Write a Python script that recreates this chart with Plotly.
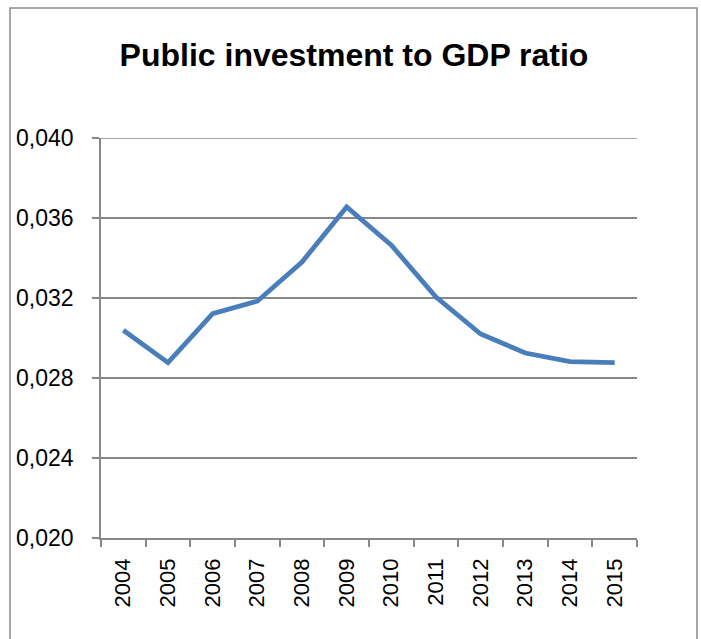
import plotly.graph_objects as go

years = ["2004", "2005", "2006", "2007", "2008", "2009",
         "2010", "2011", "2012", "2013", "2014", "2015"]
ratio = [0.03039, 0.02877, 0.03122, 0.03184, 0.03380, 0.03655,
         0.03464, 0.03205, 0.03020, 0.02925, 0.02882, 0.02877]
y_ticks = [0.020, 0.024, 0.028, 0.032, 0.036, 0.040]

W, H = 701, 639
L, R, T, B = 101, 64, 138, 101
pw, ph = W - L - R, H - T - B

fig = go.Figure(go.Scatter(
    x=years, y=ratio, mode="lines",
    line=dict(color="#4a7ebb", width=4.8),
    hoverinfo="skip",
))

grid = "#878787"
fig.update_layout(
    width=W, height=H,
    margin=dict(l=L, r=R, t=T, b=B, pad=0),
    paper_bgcolor="white", plot_bgcolor="white",
    separators=", ",
    showlegend=False,
    font=dict(family="Liberation Sans, Arial, sans-serif", color="black"),
    title=dict(
        text="<b>Public investment to GDP ratio</b>",
        font=dict(size=32, family="Liberation Sans, Arial, sans-serif", color="black"),
        x=354 / W, xref="container", xanchor="center",
        y=1 - 55 / H, yref="container", yanchor="middle",
    ),
)

fig.update_xaxes(
    type="category", range=[-0.5, 11.5],
    showgrid=False, showline=True, linecolor=grid, linewidth=1.5,
    ticks="outside", tickson="boundaries", ticklen=7, tickcolor=grid, tickwidth=1.5,
    tickangle=-90, tickfont=dict(size=22), ticklabelstandoff=10,
)
fig.update_yaxes(
    range=[y_ticks[0], y_ticks[-1]], tickvals=y_ticks,
    tickformat=".3f",
    showgrid=True, gridcolor=grid, gridwidth=1.5,
    showline=True, linecolor=grid, linewidth=1.5,
    ticks="outside", ticklen=7, tickcolor=grid, tickwidth=1.5,
    tickfont=dict(size=23), ticklabelstandoff=14,
    zeroline=False,
)

# top gridline sits on the edge of the range, draw it explicitly
fig.add_shape(
    type="line", xref="paper", yref="y",
    x0=0, x1=1, y0=y_ticks[-1], y1=y_ticks[-1],
    line=dict(color=grid, width=1.5), layer="below",
)

# chart frame
fig.add_shape(
    type="rect", xref="paper", yref="paper",
    x0=(10 - L) / pw, x1=(697 - L) / pw,
    y0=(H - T - 660) / ph, y1=(H - B - 8) / ph,
    line=dict(color="#8a8a8a", width=1.5), fillcolor="rgba(0,0,0,0)",
    layer="below",
)

fig.write_html("out.html")
